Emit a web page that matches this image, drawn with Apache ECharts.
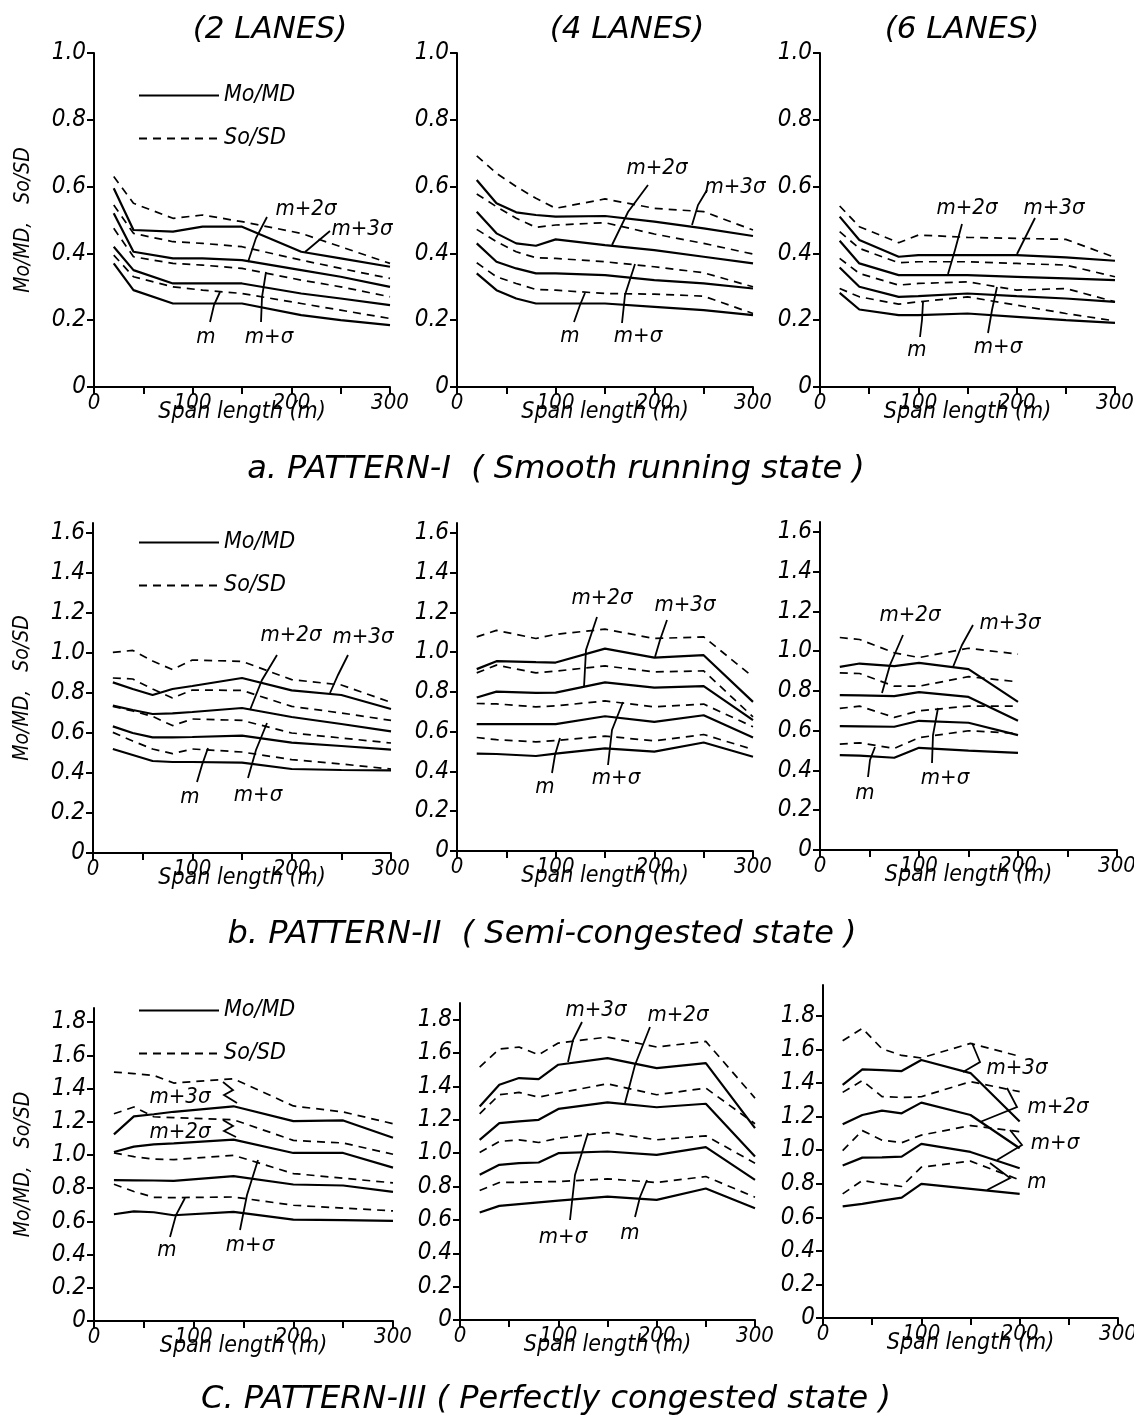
<!DOCTYPE html>
<html>
<head>
<meta charset="utf-8">
<script src="https://cdn.jsdelivr.net/npm/echarts@6/dist/echarts.min.js"></script>
<style>
html,body{margin:0;padding:0;background:#fff;}
#chart{width:1134px;height:1423px;}
</style>
</head>
<body>
<div id="chart"></div>
<script>
// ---------- DATA ----------
// Series order inside each Mo / So array: m, m+σ, m+2σ, m+3σ
const xTickLabels = [0, 100, 200, 300];
const yTicksA = [0, 0.2, 0.4, 0.6, 0.8, 1.0];
const yTicksB = [0, 0.2, 0.4, 0.6, 0.8, 1.0, 1.2, 1.4, 1.6];
const yTicksC = [0, 0.2, 0.4, 0.6, 0.8, 1.0, 1.2, 1.4, 1.6, 1.8];

// a. PATTERN-I, 2 lanes
const a1Span = [20, 40, 80, 110, 150, 210, 250, 300];
const a1Mo = [
  [0.37, 0.29, 0.25, 0.25, 0.25, 0.215, 0.20, 0.185],
  [0.42, 0.35, 0.31, 0.31, 0.31, 0.28, 0.265, 0.245],
  [0.52, 0.405, 0.385, 0.385, 0.38, 0.35, 0.33, 0.30],
  [0.595, 0.47, 0.465, 0.48, 0.48, 0.405, 0.385, 0.36]
];
const a1So = [
  [0.395, 0.33, 0.30, 0.29, 0.28, 0.25, 0.23, 0.205],
  [0.475, 0.39, 0.37, 0.365, 0.355, 0.32, 0.30, 0.27],
  [0.545, 0.46, 0.435, 0.43, 0.42, 0.38, 0.355, 0.325],
  [0.63, 0.55, 0.505, 0.515, 0.495, 0.46, 0.42, 0.37]
];
// a. PATTERN-I, 4 lanes
const a2Span = [20, 40, 60, 80, 100, 150, 200, 250, 300];
const a2Mo = [
  [0.34, 0.29, 0.265, 0.25, 0.25, 0.25, 0.24, 0.23, 0.215],
  [0.43, 0.375, 0.355, 0.34, 0.34, 0.335, 0.32, 0.31, 0.295],
  [0.525, 0.46, 0.43, 0.423, 0.442, 0.425, 0.41, 0.39, 0.37],
  [0.62, 0.55, 0.523, 0.515, 0.51, 0.512, 0.495, 0.475, 0.452]
];
const a2So = [
  [0.372, 0.33, 0.31, 0.292, 0.29, 0.28, 0.278, 0.272, 0.22],
  [0.472, 0.435, 0.405, 0.387, 0.385, 0.375, 0.36, 0.342, 0.30],
  [0.578, 0.54, 0.505, 0.478, 0.485, 0.492, 0.458, 0.43, 0.398],
  [0.692, 0.64, 0.60, 0.565, 0.535, 0.563, 0.535, 0.525, 0.47]
];
// a. PATTERN-I, 6 lanes
const a3Span = [20, 40, 80, 100, 150, 200, 250, 300];
const a3Mo = [
  [0.282, 0.232, 0.215, 0.215, 0.22, 0.21, 0.20, 0.192],
  [0.358, 0.30, 0.27, 0.272, 0.28, 0.272, 0.265, 0.255],
  [0.438, 0.37, 0.335, 0.335, 0.335, 0.33, 0.325, 0.32],
  [0.51, 0.44, 0.39, 0.395, 0.395, 0.395, 0.388, 0.378]
];
const a3So = [
  [0.295, 0.27, 0.248, 0.255, 0.27, 0.245, 0.22, 0.198],
  [0.385, 0.34, 0.305, 0.31, 0.315, 0.29, 0.295, 0.255],
  [0.465, 0.415, 0.372, 0.375, 0.375, 0.37, 0.365, 0.33],
  [0.542, 0.48, 0.432, 0.455, 0.448, 0.445, 0.442, 0.388]
];
// b. PATTERN-II, 2 lanes
const b1Span = [20, 40, 60, 80, 100, 150, 200, 250, 300];
const b1Mo = [
  [0.52, 0.49, 0.46, 0.455, 0.455, 0.452, 0.42, 0.415, 0.413],
  [0.633, 0.60, 0.578, 0.578, 0.58, 0.587, 0.552, 0.535, 0.517],
  [0.737, 0.715, 0.695, 0.698, 0.705, 0.725, 0.68, 0.645, 0.608],
  [0.853, 0.82, 0.79, 0.82, 0.835, 0.875, 0.813, 0.79, 0.72]
];
const b1So = [
  [0.603, 0.56, 0.52, 0.497, 0.52, 0.505, 0.467, 0.445, 0.42],
  [0.733, 0.71, 0.683, 0.637, 0.67, 0.663, 0.60, 0.575, 0.55],
  [0.875, 0.87, 0.82, 0.775, 0.815, 0.813, 0.733, 0.70, 0.663],
  [1.003, 1.013, 0.96, 0.917, 0.965, 0.958, 0.867, 0.84, 0.753]
];
// b. PATTERN-II, 4 lanes
const b2Span = [20, 40, 80, 100, 150, 200, 250, 300];
const b2Mo = [
  [0.49, 0.488, 0.478, 0.49, 0.516, 0.50, 0.546, 0.474],
  [0.638, 0.638, 0.638, 0.638, 0.678, 0.65, 0.683, 0.571],
  [0.772, 0.802, 0.795, 0.797, 0.848, 0.822, 0.829, 0.658],
  [0.915, 0.955, 0.95, 0.948, 1.018, 0.973, 0.985, 0.75]
];
const b2So = [
  [0.571, 0.56, 0.549, 0.556, 0.578, 0.554, 0.586, 0.511],
  [0.742, 0.74, 0.725, 0.73, 0.755, 0.725, 0.739, 0.625],
  [0.896, 0.935, 0.896, 0.905, 0.931, 0.901, 0.906, 0.675],
  [1.077, 1.11, 1.069, 1.09, 1.116, 1.069, 1.077, 0.876]
];
// b. PATTERN-II, 6 lanes
const b3Span = [20, 40, 75, 100, 150, 200];
const b3Mo = [
  [0.477, 0.475, 0.464, 0.514, 0.50, 0.489],
  [0.623, 0.622, 0.62, 0.65, 0.64, 0.578],
  [0.779, 0.778, 0.774, 0.794, 0.77, 0.65],
  [0.921, 0.938, 0.925, 0.941, 0.91, 0.745]
];
const b3So = [
  [0.533, 0.539, 0.511, 0.565, 0.60, 0.586],
  [0.712, 0.724, 0.667, 0.70, 0.724, 0.724],
  [0.891, 0.888, 0.824, 0.824, 0.872, 0.846],
  [1.069, 1.059, 0.992, 0.968, 1.015, 0.985]
];
// c. PATTERN-III, 2 lanes
const c1Span = [20, 40, 60, 80, 140, 200, 250, 300];
const c1Mo = [
  [0.643, 0.66, 0.655, 0.637, 0.657, 0.611, 0.607, 0.603],
  [0.848, 0.847, 0.846, 0.844, 0.872, 0.822, 0.816, 0.778],
  [1.018, 1.05, 1.064, 1.07, 1.092, 1.012, 1.012, 0.924],
  [1.124, 1.232, 1.245, 1.26, 1.293, 1.204, 1.208, 1.104]
];
const c1So = [
  [0.824, 0.78, 0.745, 0.743, 0.747, 0.697, 0.68, 0.663],
  [1.012, 0.99, 0.975, 0.972, 0.998, 0.888, 0.86, 0.832],
  [1.248, 1.289, 1.23, 1.225, 1.212, 1.088, 1.072, 1.004],
  [1.499, 1.49, 1.479, 1.433, 1.459, 1.295, 1.259, 1.188]
];
// c. PATTERN-III, 4 lanes
const c2Span = [20, 40, 60, 80, 100, 150, 200, 250, 300];
const c2Mo = [
  [0.644, 0.684, 0.695, 0.705, 0.715, 0.74, 0.72, 0.788, 0.67],
  [0.87, 0.93, 0.94, 0.944, 1.0, 1.01, 0.99, 1.036, 0.84],
  [1.08, 1.18, 1.19, 1.2, 1.265, 1.304, 1.275, 1.296, 0.98],
  [1.28, 1.41, 1.45, 1.444, 1.53, 1.57, 1.51, 1.54, 1.15]
];
const c2So = [
  [0.776, 0.824, 0.825, 0.828, 0.83, 0.846, 0.824, 0.86, 0.736],
  [1.004, 1.07, 1.08, 1.064, 1.09, 1.124, 1.08, 1.104, 0.94],
  [1.236, 1.35, 1.364, 1.336, 1.36, 1.416, 1.35, 1.39, 1.176],
  [1.516, 1.624, 1.636, 1.59, 1.66, 1.696, 1.636, 1.67, 1.33]
];
// c. PATTERN-III, 6 lanes
const c3Span = [20, 40, 60, 80, 100, 150, 200];
const c3Mo = [
  [0.665, 0.68, 0.70, 0.718, 0.80, 0.77, 0.74],
  [0.909, 0.956, 0.958, 0.962, 1.038, 0.99, 0.893],
  [1.155, 1.21, 1.236, 1.22, 1.284, 1.21, 1.012],
  [1.389, 1.482, 1.478, 1.472, 1.538, 1.46, 1.171]
];
const c3So = [
  [0.74, 0.82, 0.80, 0.784, 0.899, 0.935, 0.823],
  [0.998, 1.117, 1.06, 1.045, 1.09, 1.147, 1.111],
  [1.345, 1.415, 1.32, 1.315, 1.319, 1.409, 1.349],
  [1.653, 1.726, 1.605, 1.565, 1.55, 1.637, 1.56]
];

const laneTitles = ['(2 LANES)', '(4 LANES)', '(6 LANES)'];
const patternTitles = [
  'a. PATTERN-I  ( Smooth running state )',
  'b. PATTERN-II  ( Semi-congested state )',
  'C. PATTERN-III ( Perfectly congested state )'
];
const seriesNames = ['Mo/MD', 'So/SD'];
const yAxisTitle = 'Mo/MD,   So/SD';
const xAxisTitle = 'Span length (m)';

// ---------- LAYOUT ----------
const FONT = "'DejaVu Sans Condensed','Liberation Sans Narrow','DejaVu Sans',sans-serif";
const WFONT = "'DejaVu Sans','Liberation Sans',sans-serif";
const panels = [
  {span:a1Span, mo:a1Mo, so:a1So, left:94,  top:53,   w:296, h:334, max:1.0,  ticks:yTicksA, first:true},
  {span:a2Span, mo:a2Mo, so:a2So, left:457, top:53,   w:296, h:334, max:1.0,  ticks:yTicksA},
  {span:a3Span, mo:a3Mo, so:a3So, left:820, top:53,   w:295, h:334, max:1.0,  ticks:yTicksA},
  {span:b1Span, mo:b1Mo, so:b1So, left:93,  top:523,  w:298, h:330, max:1.65, ticks:yTicksB, first:true},
  {span:b2Span, mo:b2Mo, so:b2So, left:457, top:523,  w:296, h:328, max:1.65, ticks:yTicksB},
  {span:b3Span, mo:b3Mo, so:b3So, left:820, top:522,  w:297, h:328, max:1.65, ticks:yTicksB},
  {span:c1Span, mo:c1Mo, so:c1So, left:94,  top:1008, w:299, h:313, max:1.885,ticks:yTicksC, first:true},
  {span:c2Span, mo:c2Mo, so:c2So, left:460, top:1003, w:295, h:317, max:1.9,  ticks:yTicksC},
  {span:c3Span, mo:c3Mo, so:c3So, left:823, top:985,  w:295, h:333, max:1.985,ticks:yTicksC}
];

const grids = [], xAxes = [], yAxes = [], series = [];
const labelStyle = {color:'#000', fontFamily:FONT, fontStyle:'italic'};
panels.forEach((p, i) => {
  grids.push({left:p.left, top:p.top, width:p.w, height:p.h, containLabel:false, outerBoundsMode:'none'});
  xAxes.push({
    type:'value', gridIndex:i, min:0, max:300, interval:50,
    axisLine:{show:true, lineStyle:{color:'#000', width:2}},
    axisTick:{show:true, length:7, lineStyle:{color:'#000', width:2}},
    axisLabel:Object.assign({customValues:xTickLabels, fontSize:22, margin:5}, labelStyle),
    splitLine:{show:false},
    name:xAxisTitle, nameLocation:'middle', nameGap:14, nameMoveOverlap:false,
    nameTextStyle:Object.assign({fontSize:23, verticalAlign:'top'}, labelStyle)
  });
  yAxes.push({
    type:'value', gridIndex:i, min:0, max:p.max,
    axisLine:{show:true, lineStyle:{color:'#000', width:2}},
    axisTick:{show:true, length:7, customValues:p.ticks, lineStyle:{color:'#000', width:2}},
    axisLabel:Object.assign({customValues:p.ticks, fontSize:24, margin:8,
      formatter:v => (Math.abs(v) < 1e-9 ? '0' : (+v).toFixed(1))}, labelStyle),
    splitLine:{show:false},
    name:p.first ? yAxisTitle : '', nameLocation:'middle', nameGap:60, nameRotate:90,
    nameMoveOverlap:false,
    nameTextStyle:Object.assign({fontSize:21}, labelStyle)
  });
  p.mo.forEach(arr => series.push({
    type:'line', name:seriesNames[0], xAxisIndex:i, yAxisIndex:i,
    data:p.span.map((x, k) => [x, arr[k]]),
    symbol:'none', showSymbol:false, silent:true, animation:false,
    lineStyle:{color:'#000', width:2.2}, itemStyle:{color:'#000'}
  }));
  p.so.forEach(arr => series.push({
    type:'line', name:seriesNames[1], xAxisIndex:i, yAxisIndex:i,
    data:p.span.map((x, k) => [x, arr[k]]),
    symbol:'none', showSymbol:false, silent:true, animation:false,
    lineStyle:{color:'#000', width:1.7, type:[8, 6]}, itemStyle:{color:'#000'}
  }));
});

// legends (one in the first panel of each row)
const legendTops = [79, 526, 994];
const legends = legendTops.map(t => ({
  left:133, top:t, orient:'vertical', itemWidth:80, itemHeight:14, itemGap:20,
  data:seriesNames, selectedMode:false,
  itemStyle:{opacity:0},
  lineStyle:{opacity:1, width:2},
  textStyle:{color:'#000', fontFamily:FONT, fontStyle:'italic', fontSize:23}
}));

// ---------- ANNOTATIONS (text + leader lines, in pixels) ----------
const notes = [
  // a1
  {t:'m+2σ', x:306, y:209, l:[[267,217],[256,238],[248,262]]},
  {t:'m+3σ', x:362, y:229, l:[[330,231],[305,252]]},
  {t:'m',    x:206, y:337, l:[[210,322],[214,305],[220,292]]},
  {t:'m+σ',  x:269, y:337, l:[[261,322],[262,297],[266,272]]},
  // a2
  {t:'m+2σ', x:657, y:168, l:[[648,185],[628,212],[612,245]]},
  {t:'m+3σ', x:735, y:187, l:[[707,190],[698,205],[692,225]]},
  {t:'m',    x:570, y:336, l:[[574,322],[580,305],[585,293]]},
  {t:'m+σ',  x:638, y:336, l:[[622,323],[625,295],[635,264]]},
  // a3
  {t:'m+2σ', x:967, y:208, l:[[962,224],[955,250],[948,274]]},
  {t:'m+3σ', x:1054, y:208, l:[[1035,218],[1025,238],[1017,254]]},
  {t:'m',    x:917, y:350, l:[[920,337],[922,320],[923,302]]},
  {t:'m+σ',  x:998, y:347, l:[[988,333],[992,310],[997,287]]},
  // b1
  {t:'m+2σ', x:291, y:635, l:[[277,655],[262,680],[250,710]]},
  {t:'m+3σ', x:363, y:637, l:[[348,655],[338,675],[330,693]]},
  {t:'m',    x:190, y:797, l:[[197,782],[202,765],[208,748]]},
  {t:'m+σ',  x:258, y:795, l:[[248,778],[256,750],[267,723]]},
  // b2
  {t:'m+2σ', x:602, y:598, l:[[597,617],[586,650],[584,687]]},
  {t:'m+3σ', x:685, y:605, l:[[667,620],[660,640],[655,657]]},
  {t:'m',    x:545, y:787, l:[[552,773],[555,755],[560,738]]},
  {t:'m+σ',  x:616, y:778, l:[[608,765],[612,730],[623,702]]},
  // b3
  {t:'m+2σ', x:910, y:615, l:[[903,635],[890,665],[882,693]]},
  {t:'m+3σ', x:1010, y:623, l:[[973,625],[962,645],[953,667]]},
  {t:'m',    x:865, y:793, l:[[868,777],[870,760],[875,747]]},
  {t:'m+σ',  x:945, y:778, l:[[932,763],[933,735],[938,708]]},
  // c1
  {t:'m+3σ', x:180, y:1097, l:[[223,1082],[233,1090],[224,1095],[237,1103]]},
  {t:'m+2σ', x:180, y:1132, l:[[223,1120],[233,1126],[224,1131],[236,1137]]},
  {t:'m',    x:167, y:1250, l:[[170,1237],[176,1215],[185,1198]]},
  {t:'m+σ',  x:250, y:1245, l:[[240,1230],[247,1195],[258,1160]]},
  // c2
  {t:'m+3σ', x:596, y:1010, l:[[582,1022],[573,1040],[568,1062]]},
  {t:'m+2σ', x:678, y:1015, l:[[650,1027],[635,1065],[625,1103]]},
  {t:'m+σ',  x:563, y:1237, l:[[570,1220],[575,1175],[588,1133]]},
  {t:'m',    x:630, y:1233, l:[[635,1217],[640,1197],[647,1180]]},
  // c3
  {t:'m+3σ', x:1017, y:1068, l:[[972,1043],[980,1062],[963,1072]]},
  {t:'m+2σ', x:1058, y:1107, l:[[1007,1088],[1017,1107],[980,1122]]},
  {t:'m+σ',  x:1055, y:1143, l:[[1010,1130],[1022,1145],[997,1160]]},
  {t:'m',    x:1037, y:1182, l:[[990,1163],[1010,1178],[987,1190]]}
];

const graphics = [];
notes.forEach(n => {
  graphics.push({type:'text', x:n.x, y:n.y, silent:true,
    style:{text:n.t, fill:'#000', font:'italic 22px ' + FONT, textAlign:'center', textVerticalAlign:'middle'}});
  graphics.push({type:'polyline', silent:true, shape:{points:n.l},
    style:{stroke:'#000', lineWidth:1.8, fill:null}});
});
const laneX = [270, 627, 962];
laneTitles.forEach((t, i) => graphics.push({type:'text', x:laneX[i], y:30, silent:true,
  style:{text:t, fill:'#000', font:'italic 31px ' + WFONT, textAlign:'center', textVerticalAlign:'middle'}}));
const patPos = [[556, 470], [542, 935], [546, 1400]];
patternTitles.forEach((t, i) => graphics.push({type:'text', x:patPos[i][0], y:patPos[i][1], silent:true,
  style:{text:t, fill:'#000', font:'italic 32px ' + WFONT, textAlign:'center', textVerticalAlign:'middle'}}));

const chart = echarts.init(document.getElementById('chart'), null, {renderer:'canvas'});
chart.setOption({
  backgroundColor:'#fff',
  animation:false,
  grid:grids, xAxis:xAxes, yAxis:yAxes, series:series,
  legend:legends,
  graphic:graphics
});
</script>
</body>
</html>
